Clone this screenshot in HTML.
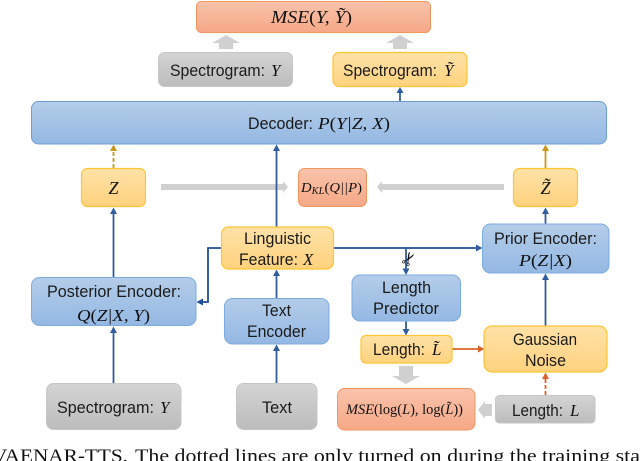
<!DOCTYPE html>
<html>
<head>
<meta charset="utf-8">
<style>
html,body{margin:0;padding:0;background:#fff;width:640px;height:461px;overflow:hidden}
svg{display:block}
text{font-family:"Liberation Sans",sans-serif;font-size:17px;fill:#1a1a1a}
.m{font-family:"Liberation Serif",serif;font-style:italic;font-size:17px;fill:#111}
.c{font-family:"Liberation Serif",serif;font-size:19px;fill:#111}
.l{fill:none;stroke:#2f5c9e;stroke-width:1.8}
.h{fill:#2f5c9e}
.g{fill:#d0d0d0}
.u{font-style:normal}
</style>
</head>
<body>
<svg width="640" height="461" viewBox="0 0 640 461" xmlns="http://www.w3.org/2000/svg">
<defs>
<linearGradient id="b" x1="0" y1="0" x2="0" y2="1"><stop offset="0" stop-color="#b4cde9"/><stop offset="1" stop-color="#94b8e3"/></linearGradient>
<linearGradient id="o" x1="0" y1="0" x2="0" y2="1"><stop offset="0" stop-color="#ffe2a8"/><stop offset="1" stop-color="#ffd27e"/></linearGradient>
<linearGradient id="y" x1="0" y1="0" x2="0" y2="1"><stop offset="0" stop-color="#d4d4d4"/><stop offset="1" stop-color="#bcbcbc"/></linearGradient>
<linearGradient id="r" x1="0" y1="0" x2="0" y2="1"><stop offset="0" stop-color="#f9c3ab"/><stop offset="1" stop-color="#f6a887"/></linearGradient>
</defs>

<!-- grey arrows -->
<path class="g" d="M219 49V43H212L226 35L240 43H233V49Z"/>
<path class="g" d="M393 49V43H386L400 35L414 43H407V49Z"/>
<path class="g" d="M161 184H283V181L288 187L283 193V190H161Z"/>
<path class="g" d="M504 184H382V181L377 187L382 193V190H504Z"/>
<path class="g" d="M399 366H413V376H420L406 384L392 376H399Z"/>
<path class="g" d="M492 404V416H485V419L478 410L485 401V404Z"/>

<!-- connectors -->
<path class="l" d="M400 101V91"/><path class="h" d="M396.500 93L400 87L403.500 93Z"/>
<path class="l" d="M276.500 227V150"/><path class="h" d="M273 151L276.500 144.500L280 151Z"/>
<path d="M113.500 168V150" fill="none" stroke="#c9971c" stroke-width="1.800" stroke-dasharray="4 2"/><path fill="#c9971c" d="M110 151L113.500 144.500L117 151Z"/>
<path d="M545.500 168V150" fill="none" stroke="#c9971c" stroke-width="1.800"/><path fill="#c9971c" d="M542 151L545.500 144.500L549 151Z"/>
<path class="l" d="M113.500 277V212"/><path class="h" d="M110 214L113.500 207.500L117 214Z"/>
<path class="l" d="M113.500 383V330"/><path class="h" d="M110 333L113.500 326.500L117 333Z"/>
<path class="l" d="M276.500 383V348"/><path class="h" d="M273 351L276.500 344.500L280 351Z"/>
<path class="l" d="M276.500 298V273"/><path class="h" d="M273 276L276.500 269.500L280 276Z"/>
<path class="l" style="stroke:#1f4e9a" d="M221 248H208V302H200"/><path fill="#1f4e9a" d="M203 298.500L196.500 302L203 305.500Z"/>
<path class="l" style="stroke:#1f4e9a" d="M333 248H478"/><path fill="#2f5c9e" d="M476 244.500L482.500 248L476 251.500Z"/>
<path class="l" d="M406 248V270"/><path class="h" d="M402.500 268.500L406 275L409.500 268.500Z"/>
<path class="l" d="M545.500 224V212"/><path class="h" d="M542 214L545.500 207.500L549 214Z"/>
<path class="l" d="M545.500 326V278"/><path class="h" d="M542 280L545.500 273.500L549 280Z"/>
<path class="l" d="M406 321V331"/><path class="h" d="M402.500 329L406 335.500L409.500 329Z"/>
<path d="M452 349H480" fill="none" stroke="#d9622b" stroke-width="1.800"/><path fill="#d9622b" d="M478 345.500L484.500 349L478 352.500Z"/>
<path d="M545.500 395V377" fill="none" stroke="#d9622b" stroke-width="1.800" stroke-dasharray="4 2"/><path fill="#d9622b" d="M542 379L545.500 372.500L549 379Z"/>
<text x="409" y="265" text-anchor="middle" transform="rotate(-60 409 259)" style="font-family:'DejaVu Sans',sans-serif;font-size:18px;fill:#111">✂</text>

<!-- boxes -->
<rect x="196.500" y="1.500" width="234" height="31" rx="5" fill="url(#r)" stroke="#f2965f"/>
<rect x="158.500" y="52.500" width="134" height="34" rx="6" fill="url(#y)" stroke="#c6c6c6"/>
<rect x="333" y="52.500" width="134" height="34" rx="6" fill="url(#o)" stroke="#ffc534" stroke-width="1.200"/>
<rect x="31.500" y="101.500" width="575" height="42.500" rx="7" fill="url(#b)" stroke="#6d9fd6"/>
<rect x="81.500" y="168.500" width="64" height="38" rx="6" fill="url(#o)" stroke="#ffc534" stroke-width="1.200"/>
<rect x="298.500" y="168.500" width="68" height="38" rx="6" fill="url(#r)" stroke="#f2965f"/>
<rect x="513.500" y="168.500" width="64" height="38" rx="6" fill="url(#o)" stroke="#ffc534" stroke-width="1.200"/>
<rect x="221.500" y="227" width="112" height="42" rx="7" fill="url(#o)" stroke="#ffc534" stroke-width="1.200"/>
<rect x="482.500" y="224" width="126.500" height="49" rx="8" fill="url(#b)" stroke="#7cabdf"/>
<rect x="352" y="275" width="108.500" height="46" rx="8" fill="url(#b)" stroke="#7cabdf"/>
<rect x="31.500" y="277.500" width="164.500" height="48" rx="8" fill="url(#b)" stroke="#7cabdf"/>
<rect x="224.500" y="298.500" width="104.500" height="45.500" rx="8" fill="url(#b)" stroke="#7cabdf"/>
<rect x="361" y="335.500" width="91" height="27.500" rx="5" fill="url(#o)" stroke="#ffc534" stroke-width="1.200"/>
<rect x="484" y="326" width="123" height="46" rx="8" fill="url(#o)" stroke="#ffc534" stroke-width="1.200"/>
<rect x="337.500" y="388.500" width="137.500" height="41.500" rx="7" fill="url(#r)" stroke="#f2965f"/>
<rect x="495.500" y="395.500" width="99.500" height="27.500" rx="4" fill="url(#y)" stroke="#c6c6c6"/>
<rect x="46.500" y="383.500" width="134.500" height="46" rx="7" fill="url(#y)" stroke="#c6c6c6"/>
<rect x="236.500" y="383.500" width="80.500" height="46" rx="7" fill="url(#y)" stroke="#c6c6c6"/>

<!-- labels -->
<text class="m" x="271" y="23" textLength="81" lengthAdjust="spacingAndGlyphs" style="font-size:18px">MSE<tspan class="u">(</tspan>Y, Ỹ<tspan class="u">)</tspan></text>
<text x="170" y="76" textLength="95" lengthAdjust="spacingAndGlyphs">Spectrogram:</text><text class="m" x="271" y="76">Y</text>
<text x="343" y="76" textLength="94" lengthAdjust="spacingAndGlyphs">Spectrogram:</text><text class="m" x="444" y="76">Ỹ</text>
<text x="248" y="129" textLength="65" lengthAdjust="spacingAndGlyphs">Decoder:</text><text class="m" x="318" y="129" textLength="72" lengthAdjust="spacingAndGlyphs">P<tspan class="u">(</tspan>Y|Z, X<tspan class="u">)</tspan></text>
<text class="m" x="113.500" y="194" text-anchor="middle" style="font-size:18px">Z</text>
<text class="m" x="301" y="192" style="font-size:14px" textLength="61" lengthAdjust="spacingAndGlyphs">D<tspan dy="2" style="font-size:10px">KL</tspan><tspan dy="-2" class="u">(</tspan>Q||P<tspan class="u">)</tspan></text>
<text class="m" x="545.500" y="194" text-anchor="middle" style="font-size:18px">Z̃</text>
<text x="244" y="244" textLength="67" lengthAdjust="spacingAndGlyphs">Linguistic</text>
<text x="239" y="265" textLength="59" lengthAdjust="spacingAndGlyphs">Feature:</text><text class="m" x="303" y="265">X</text>
<text x="494" y="244" textLength="103" lengthAdjust="spacingAndGlyphs">Prior Encoder:</text>
<text class="m" x="519" y="266" textLength="53" lengthAdjust="spacingAndGlyphs">P<tspan class="u">(</tspan>Z|X<tspan class="u">)</tspan></text>
<text x="382" y="293" textLength="49" lengthAdjust="spacingAndGlyphs">Length</text>
<text x="373" y="314" textLength="66" lengthAdjust="spacingAndGlyphs">Predictor</text>
<text x="47" y="297" textLength="134" lengthAdjust="spacingAndGlyphs">Posterior Encoder:</text>
<text class="m" x="77" y="321" textLength="73" lengthAdjust="spacingAndGlyphs">Q<tspan class="u">(</tspan>Z|X, Y<tspan class="u">)</tspan></text>
<text x="262" y="316" textLength="29" lengthAdjust="spacingAndGlyphs">Text</text>
<text x="247" y="337" textLength="59" lengthAdjust="spacingAndGlyphs">Encoder</text>
<text x="57" y="413" textLength="97" lengthAdjust="spacingAndGlyphs">Spectrogram:</text><text class="m" x="160" y="413">Y</text>
<text x="262" y="413" textLength="30" lengthAdjust="spacingAndGlyphs">Text</text>
<text x="373" y="355" textLength="52" lengthAdjust="spacingAndGlyphs">Length:</text><text class="m" x="432" y="355">L̃</text>
<text x="513" y="345" textLength="64" lengthAdjust="spacingAndGlyphs">Gaussian</text>
<text x="525" y="366" textLength="41" lengthAdjust="spacingAndGlyphs">Noise</text>
<text class="m" x="346" y="414" style="font-size:14.500px" textLength="117" lengthAdjust="spacingAndGlyphs">MSE<tspan class="u">(log(</tspan>L<tspan class="u">), log(</tspan>L̃<tspan class="u">))</tspan></text>
<text x="512" y="416" textLength="51" lengthAdjust="spacingAndGlyphs">Length:</text><text class="m" x="570" y="416">L</text>

<!-- caption -->
<text class="c" x="-8" y="462" textLength="136" lengthAdjust="spacingAndGlyphs">VAENAR-TTS.</text>
<text class="c" x="135" y="462" textLength="505" lengthAdjust="spacingAndGlyphs">The dotted lines are only turned on during the training sta</text>
</svg>
</body>
</html>
